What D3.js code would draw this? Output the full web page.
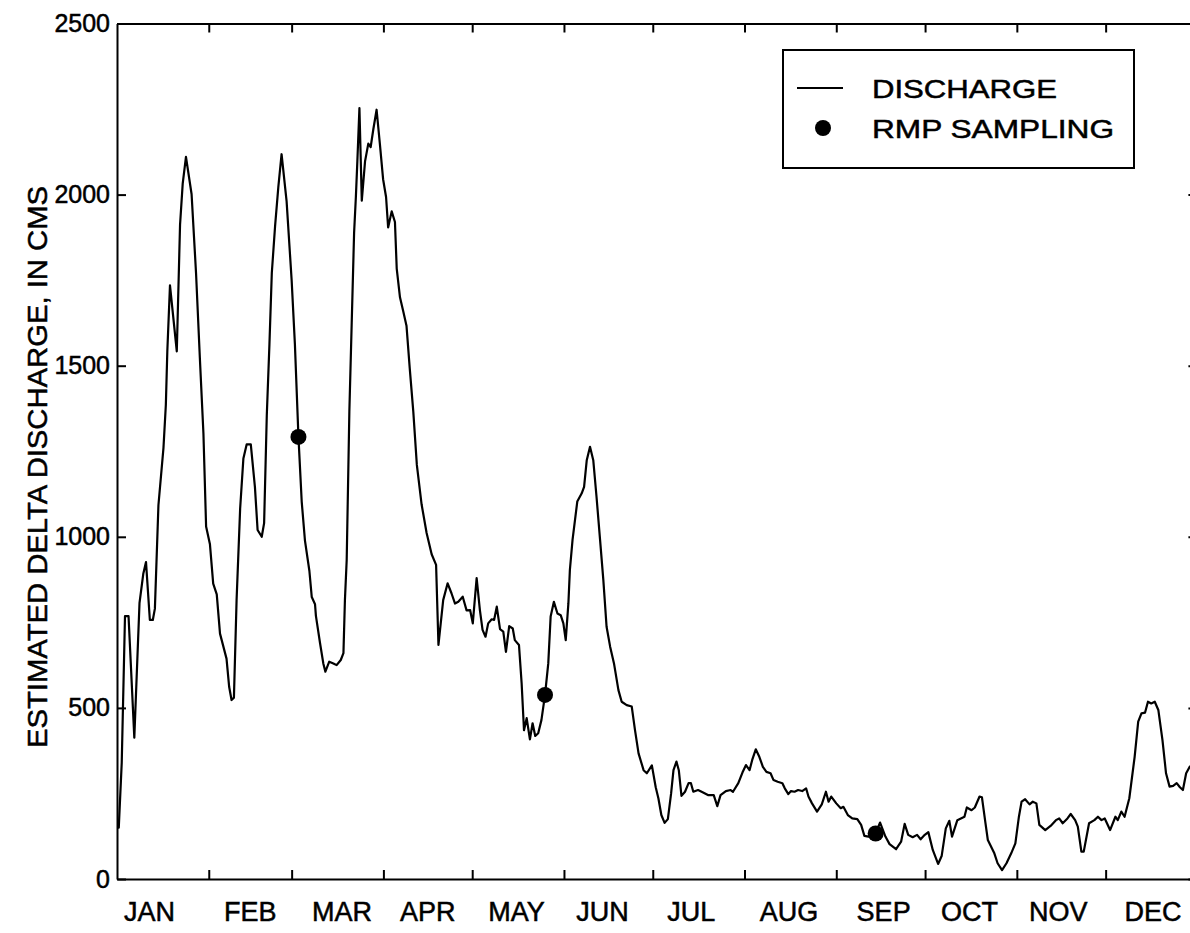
<!DOCTYPE html>
<html>
<head>
<meta charset="utf-8">
<script src="https://cdn.jsdelivr.net/npm/d3@7"></script>
<style>
	body { margin: 0; background: #fff; }
	text { font-family: "Liberation Sans", Arial, sans-serif; fill: #000; stroke: #000; stroke-width: 0.5px; }
	.axis path, .axis line { stroke: #000; stroke-width: 2; }
	.line { fill: none; stroke: #000; stroke-width: 2.2; stroke-linejoin: round; }
</style>
</head>
<body>
<div class="container"></div>
<script>
// daily discharge, [day of year, cms]
var discharge = [[0,150],[0.6,150],[1.6,340],[2.7,768],[3.9,768],[5.85,413],[7.6,806],[8.9,893],[9.8,926],[11.1,757],[12.1,757],[12.8,790],[14.0,1093],[15.7,1260],[16.5,1385],[17.0,1542],[17.9,1735],[20.2,1542],[21.3,1912],[22.2,2032],[23.3,2110],[25.2,2001],[26.7,1771],[28.0,1521],[29.2,1302],[30.1,1030],[31.4,978],[32.5,863],[33.7,832],[34.8,717],[37.0,644],[37.9,561],[38.7,523],[39.5,530],[40.4,815],[41.6,1082],[42.7,1229],[43.8,1270],[45.2,1270],[46.6,1145],[47.5,1020],[48.9,1000],[49.7,1040],[50.6,1354],[51.5,1563],[52.3,1771],[53.4,1907],[54.5,2022],[55.6,2118],[57.3,1980],[59.0,1750],[60.1,1563],[61.3,1292],[62.4,1103],[63.5,989],[65.0,900],[65.8,824],[66.9,803],[67.2,769],[68.6,689],[69.7,630],[70.4,606],[71.7,635],[73.1,630],[74.2,625],[75.6,640],[76.5,660],[77.0,815],[77.6,932],[78.5,1366],[79.3,1627],[80.1,1888],[80.7,1993],[81.2,2097],[81.9,2253],[82.7,1982],[83.8,2097],[84.9,2149],[85.7,2139],[86.6,2191],[87.7,2248],[88.8,2149],[89.9,2045],[90.9,1993],[91.6,1904],[92.8,1951],[93.9,1920],[94.5,1784],[95.6,1700],[96.7,1659],[97.8,1617],[98.9,1492],[100.1,1366],[101.3,1210],[102.9,1095],[104.6,1011],[106.3,949],[107.8,918],[108.6,684],[110.2,815],[111.7,864],[113.0,835],[114.2,805],[115.3,810],[116.8,825],[118.1,785],[119.3,786],[120.2,747],[121.5,879],[122.6,786],[123.5,728],[124.5,708],[125.4,747],[126.6,759],[127.4,757],[128.3,796],[129.4,730],[130.5,723],[131.4,664],[132.5,739],[133.7,732],[134.4,698],[135.8,684],[136.7,572],[137.5,435],[138.4,470],[139.5,408],[140.4,455],[141.3,418],[142.3,426],[143.4,465],[144.6,538],[145.7,630],[146.5,767],[147.6,810],[148.8,776],[149.9,771],[150.8,747],[151.6,698],[152.5,806],[153.0,903],[153.9,991],[155.5,1103],[157.0,1127],[157.8,1146],[158.7,1224],[159.8,1263],[160.9,1224],[162.0,1117],[163.2,991],[164.3,874],[165.4,737],[166.6,679],[167.9,630],[169.4,552],[170.5,518],[172.2,508],[173.9,504],[175.0,435],[176.2,367],[177.9,318],[179.0,309],[180.7,332],[182.0,268],[182.9,236],[183.9,187],[185.0,164],[186.1,175],[187.2,250],[188.0,318],[189.0,343],[189.8,318],[190.7,243],[191.9,255],[193.1,280],[193.9,280],[194.7,255],[196.3,260],[198.0,253],[199.8,245],[201.6,245],[202.8,213],[203.9,245],[205.7,257],[207.3,260],[208.1,255],[209.9,280],[211.3,311],[212.5,333],[213.7,318],[214.6,348],[215.8,379],[217.0,357],[218.2,328],[219.4,313],[220.8,309],[221.8,289],[223.2,284],[224.8,280],[225.6,265],[226.8,248],[227.7,257],[228.9,255],[230.1,260],[231.5,257],[232.8,265],[233.6,241],[234.8,221],[236.5,197],[238.1,218],[239.5,255],[240.4,226],[241.3,241],[243.0,221],[244.5,207],[245.4,211],[246.9,187],[248.4,177],[250.1,175],[251.4,158],[252.5,126],[253.9,124],[256.3,133],[257.8,165],[259.6,124],[261.0,102],[263.2,87],[264.9,109],[266.1,161],[267.3,129],[268.8,122],[270.3,129],[271.5,116],[272.9,129],[274.1,137],[275.6,85],[277.4,44],[278.6,67],[280.0,148],[281.2,170],[282.1,124],[283.9,172],[285.1,177],[286.3,182],[287.1,209],[288.7,201],[289.8,209],[291.4,241],[292.2,239],[293.4,163],[294.2,114],[296.4,75],[297.5,46],[299.0,26],[300.5,46],[302.1,75],[303.5,104],[304.7,182],[305.6,226],[306.8,233],[308.3,218],[309.4,226],[310.6,221],[311.6,158],[313.6,143],[315.4,155],[317.2,172],[318.3,177],[319.5,163],[321.1,177],[322.2,190],[323.7,172],[324.6,153],[325.8,80],[326.6,80],[328.4,163],[330.2,172],[331.4,182],[332.6,172],[333.7,177],[335.5,143],[337.3,182],[338.1,172],[339.3,197],[340.4,182],[342.0,236],[343.8,357],[345.0,460],[346.1,484],[347.3,486],[348.3,518],[349.4,513],[350.6,518],[351.8,494],[353.2,406],[354.4,309],[355.6,270],[356.8,272],[358.0,280],[359.1,268],[360.1,260],[361.2,309],[362.4,328],[365,340]];

var rmpDays = [61.3, 144.6, 256.3];
var rmpCms = [1292, 538, 133];

var monthNames = ['JAN','FEB','MAR','APR','MAY','JUN','JUL','AUG','SEP','OCT','NOV','DEC'];
var monthLabelDays = [11, 45, 76, 105, 135, 164, 194, 227, 259, 288, 318, 350];
var monthEndDays = [31, 59, 90, 120, 151, 181, 212, 243, 273, 304, 334];
var yTicks = [0, 500, 1000, 1500, 2000, 2500];

const WIDTH = 1190;
const HEIGHT = 933;
const LEFT = 117;
const RIGHT = 1197.4;
const TOP = 23.5;
const BOTTOM = 879;
const TICK = 9;

var translate = function(x, y){
	return "translate("+x+","+y+")";
};

var svg = d3.select('.container').append('svg')
	.attr('width', WIDTH)
	.attr('height', HEIGHT);

var xScale = d3.scaleLinear()
	.domain([0, 365])
	.range([LEFT, RIGHT]);

var yScale = d3.scaleLinear()
	.domain([0, 2500])
	.range([BOTTOM, TOP]);

// frame with inward ticks on all four sides
svg.append('g').classed('axis', true)
	.attr('transform', translate(0, BOTTOM))
	.call(d3.axisBottom(xScale).tickValues(monthEndDays).tickSizeInner(-TICK).tickSizeOuter(0).tickFormat(''));

svg.append('g').classed('axis', true)
	.attr('transform', translate(0, TOP))
	.call(d3.axisTop(xScale).tickValues(monthEndDays).tickSizeInner(-TICK).tickSizeOuter(0).tickFormat(''));

svg.append('g').classed('axis', true)
	.attr('transform', translate(RIGHT, 0))
	.call(d3.axisRight(yScale).tickValues(yTicks).tickSizeInner(-TICK).tickSizeOuter(0).tickFormat(''));

var yAxis = svg.append('g').classed('axis', true)
	.attr('transform', translate(LEFT, 0))
	.call(d3.axisLeft(yScale).tickValues(yTicks).tickFormat(d3.format('d'))
		.tickSizeInner(-TICK).tickSizeOuter(0).tickPadding(7));

yAxis.selectAll('text')
	.style('font-size', '25px')
	.style('font-family', '"Liberation Sans", Arial, sans-serif')
	.attr('fill', '#000');

svg.append('g').selectAll('text').data(monthNames)
	.enter().append('text')
	.attr('x', function(d, i){ return xScale(monthLabelDays[i]); })
	.attr('y', 921)
	.attr('text-anchor', 'middle')
	.style('font-size', '27px')
	.text(function(d){ return d; });

svg.append('text')
	.attr('transform', translate(47, 467) + ' rotate(-90)')
	.attr('text-anchor', 'middle')
	.style('font-size', '28px')
	.attr('textLength', 562)
	.attr('lengthAdjust', 'spacingAndGlyphs')
	.text('ESTIMATED DELTA DISCHARGE, IN CMS');

// discharge line
var line = d3.line()
	.x(function(d){ return xScale(d[0]); })
	.y(function(d){ return yScale(d[1]); })
	.curve(d3.curveLinear);

svg.append('path')
	.classed('line', true)
	.attr('d', line(discharge));

svg.append('g').selectAll('circle').data(rmpDays)
	.enter().append('circle')
	.attr('cx', function(d){ return xScale(d); })
	.attr('cy', function(d, i){ return yScale(rmpCms[i]); })
	.attr('r', 8)
	.attr('fill', '#000');

// legend
var legend = svg.append('g').attr('transform', translate(783, 50));

legend.append('rect')
	.attr('width', 351)
	.attr('height', 118)
	.attr('fill', '#fff')
	.attr('stroke', '#000')
	.attr('stroke-width', 2);

legend.append('line')
	.attr('x1', 14).attr('x2', 60)
	.attr('y1', 38).attr('y2', 38)
	.attr('stroke', '#000')
	.attr('stroke-width', 2);

legend.append('circle')
	.attr('cx', 40).attr('cy', 78)
	.attr('r', 8)
	.attr('fill', '#000');

legend.append('text')
	.attr('x', 89).attr('y', 48)
	.style('font-size', '26px')
	.attr('textLength', 185)
	.attr('lengthAdjust', 'spacingAndGlyphs')
	.text('DISCHARGE');

legend.append('text')
	.attr('x', 89).attr('y', 88)
	.style('font-size', '26px')
	.attr('textLength', 242)
	.attr('lengthAdjust', 'spacingAndGlyphs')
	.text('RMP SAMPLING');
</script>
</body>
</html>
